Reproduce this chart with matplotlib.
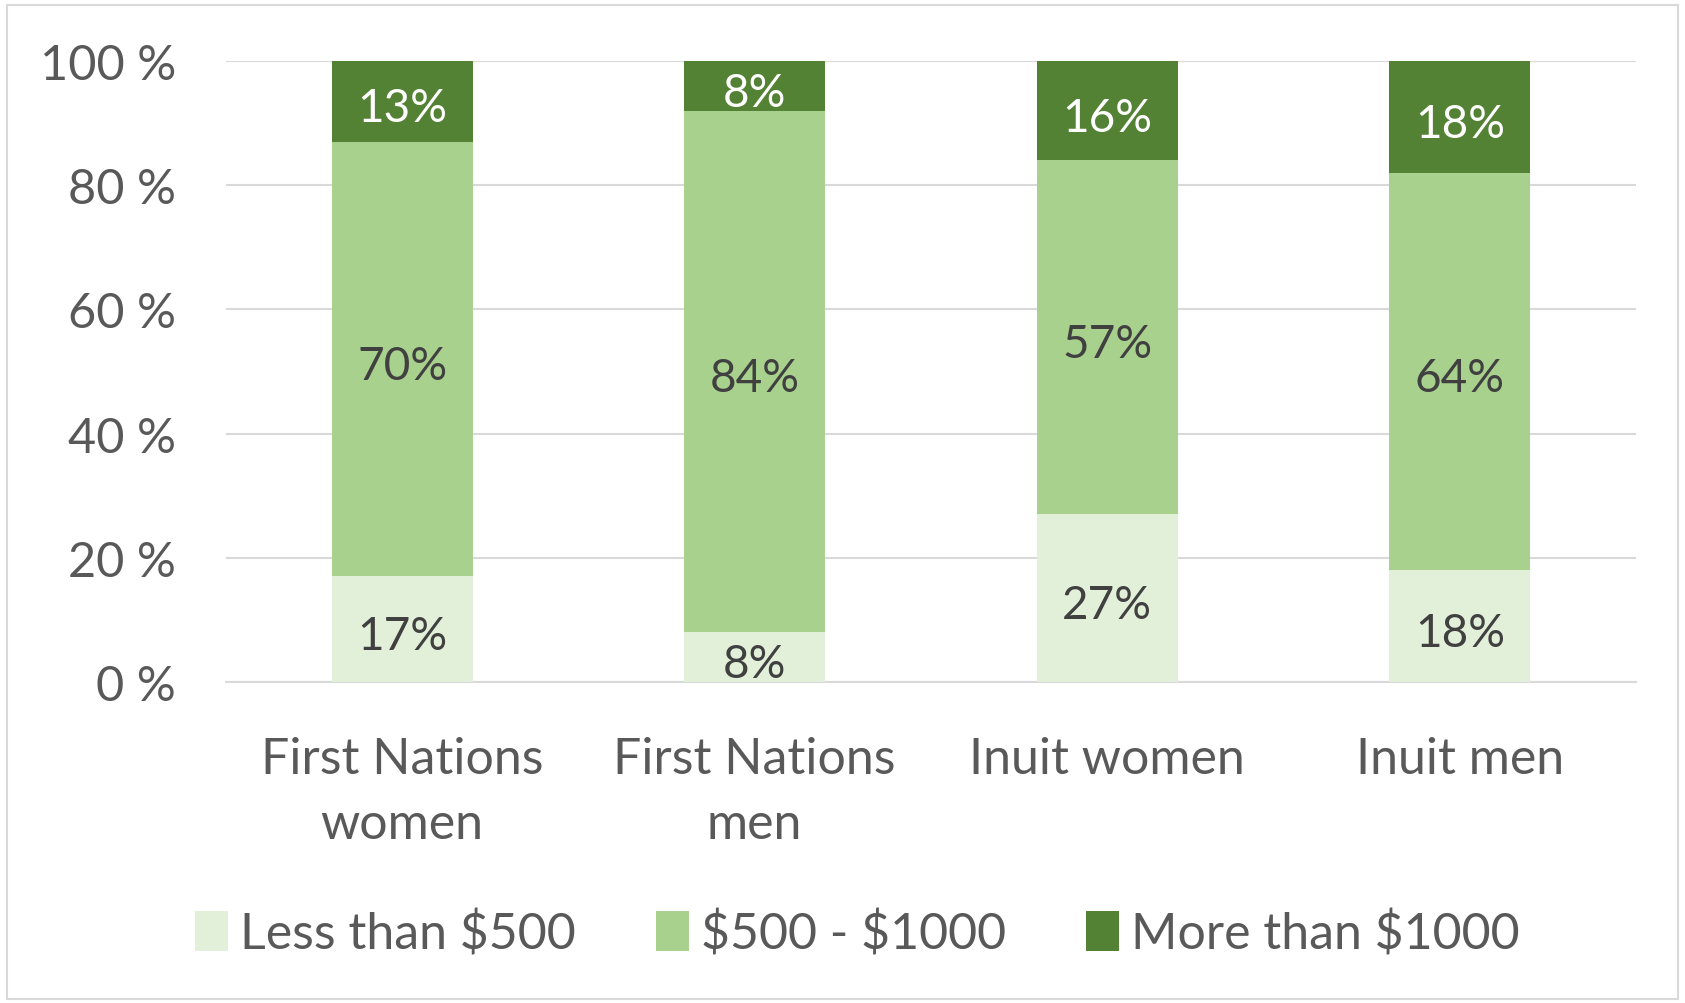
import numpy as np
import matplotlib
matplotlib.use('Agg')
import matplotlib.pyplot as plt
from matplotlib.patches import Rectangle

plt.rcParams['font.family'] = ['Lato', 'DejaVu Sans']

# data
categories = ['First Nations\nwomen', 'First Nations\nmen', 'Inuit women', 'Inuit men']
less_500 = [17, 8, 27, 18]
mid_500_1000 = [70, 84, 57, 64]
more_1000 = [13, 8, 16, 18]
series_names = [r'Less than \$500', r'\$500 - \$1000', r'More than \$1000']
yticks = [0, 20, 40, 60, 80, 100]

colors = ['#E2F0D9', '#A9D18E', '#548235']
label_colors = ['#404040', '#404040', 'white']
txt = '#595959'

fig = plt.figure(figsize=(16.85, 10.04), dpi=100)
ax = fig.add_axes([0.134, 0.3197, 0.837, 0.6185])

x = np.arange(len(categories))
bottom = np.zeros(len(categories))
handles = []
for vals, col, lcol, name in zip([less_500, mid_500_1000, more_1000], colors, label_colors, series_names):
    vals = np.array(vals, dtype=float)
    b = ax.bar(x, vals, bottom=bottom, width=0.4, color=col, label=name, zorder=3)
    handles.append(b)
    for xi, v, bt in zip(x, vals, bottom):
        # labels sit a little below the segment centre, like Excel
        ax.text(xi, bt + v / 2 - 1.1, f'{int(v)}%', ha='center', va='center',
                fontsize=33, color=lcol, zorder=4)
    bottom += vals

ax.set_xlim(-0.5, len(categories) - 0.5)
ax.set_ylim(0, 100)
ax.set_yticks(yticks)
ax.set_yticklabels([f'{t} %' for t in yticks], fontsize=35, color=txt)
ax.set_xticks(x)
ax.set_xticklabels(categories, fontsize=36, color=txt, linespacing=1.5)
ax.tick_params(axis='both', length=0)
ax.tick_params(axis='y', pad=36)
ax.tick_params(axis='x', pad=39)
ax.grid(axis='y', color='#D9D9D9', linewidth=1.5, zorder=0)
for s in ['top', 'right', 'left']:
    ax.spines[s].set_visible(False)
ax.spines['bottom'].set_color('#D9D9D9')
ax.spines['bottom'].set_linewidth(1.5)

fig.legend(handles=handles, loc='center', bbox_to_anchor=(0.509, 0.069), ncol=3,
           frameon=False, fontsize=36, labelcolor=txt, handlelength=0.65,
           handleheight=0.85, handletextpad=0.25, columnspacing=1.6)

# outer chart border
fig.patches.append(Rectangle((0.004, 0.004), 0.992, 0.99, transform=fig.transFigure,
                             fill=False, edgecolor='#D9D9D9', linewidth=1.5))

fig.savefig('out.png', dpi=100)
